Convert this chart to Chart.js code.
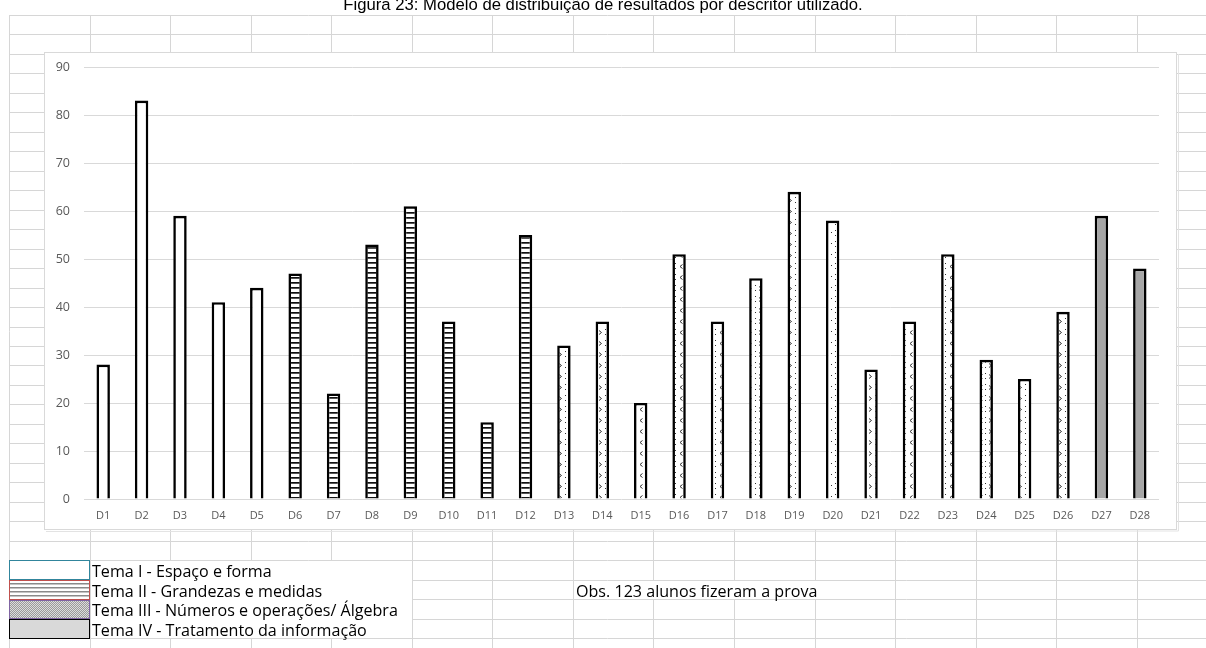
<!DOCTYPE html>
<html>
<head>
<meta charset="utf-8">
<script src="https://cdn.jsdelivr.net/npm/chart.js@4.4.1/dist/chart.umd.min.js"></script>
<style>
  body { margin: 0; width: 1206px; height: 648px; overflow: hidden; background: #fff; position: relative; }
  #planilha { position: absolute; left: 0; top: 0; }
  #titulo { position: absolute; left: 0; top: -4px; width: 1206px; text-align: center;
            font: 16.7px "Liberation Sans", Arial, sans-serif; line-height: 17px; color: #000; white-space: nowrap; }
  #grafico { position: absolute; left: 44px; top: 52px; width: 1133px; height: 478px; }
  .rotulo { position: absolute; left: 92px; height: 19px; line-height: 19px;
            font: 16.1px "Open Sans", sans-serif; color: #000; white-space: nowrap; }
  #obs { left: 576px; }
</style>
</head>
<body>
<canvas id="planilha" width="1206" height="648"></canvas>
<div id="titulo">Figura 23: Modelo de distribuição de resultados por descritor utilizado.</div>
<div id="grafico"><canvas id="barras" width="1133" height="478"></canvas></div>
<div class="rotulo" style="top:560px">Tema I - Espaço e forma</div>
<div class="rotulo" style="top:580px">Tema II - Grandezas e medidas</div>
<div class="rotulo" style="top:599px">Tema III - Números e operações/ Álgebra</div>
<div class="rotulo" style="top:619px">Tema IV - Tratamento da informação</div>
<div class="rotulo" id="obs" style="top:580px">Obs. 123 alunos fizeram a prova</div>
<script>
// dados
const descritores = ['D1','D2','D3','D4','D5','D6','D7','D8','D9','D10','D11','D12','D13','D14',
  'D15','D16','D17','D18','D19','D20','D21','D22','D23','D24','D25','D26','D27','D28'];
const acertos = [28, 83, 59, 41, 44, 47, 22, 53, 61, 37, 16, 55, 32, 37,
  20, 51, 37, 46, 64, 58, 27, 37, 51, 29, 25, 39, 59, 48];
const temas = [1,1,1,1,1, 2,2,2,2,2,2,2, 3,3,3,3,3,3,3,3,3,3,3,3,3,3, 4,4];
const escalaY = [0, 10, 20, 30, 40, 50, 60, 70, 80, 90];

// marca desenhada dentro das barras do tema III (so estilo)
const marcaTema3 = ['>','>','<','<','<','>','>','.','>','<','<','x','>','>'];

// fundo tipo planilha
const fundo = document.getElementById('planilha').getContext('2d');
fundo.strokeStyle = '#d6d6d6';
fundo.lineWidth = 1;
for (let k = 0; k <= 15; k++) {
  const x = Math.round(9 + 80.55 * k) + 0.5;
  fundo.beginPath(); fundo.moveTo(x, 15); fundo.lineTo(x, 648); fundo.stroke();
}
for (let k = 0; k <= 33; k++) {
  const y = Math.round(15 + 19.47 * k) + 0.5;
  fundo.beginPath(); fundo.moveTo(9, y); fundo.lineTo(1206, y); fundo.stroke();
}
// texto que transborda esconde as linhas
fundo.fillStyle = '#fff';
fundo.fillRect(91, 561, 321, 77);
fundo.fillRect(574, 581, 321, 18);

// caixa do grafico
fundo.fillStyle = '#fff';
fundo.fillRect(44, 52, 1133, 478);
fundo.strokeStyle = '#d9d9d9';
fundo.strokeRect(44.5, 52.5, 1132, 477);
fundo.strokeStyle = '#e3e3e3';
fundo.beginPath(); fundo.moveTo(1178.5, 54); fundo.lineTo(1178.5, 531); fundo.lineTo(46, 531.5); fundo.stroke();

// quadros da legenda
fundo.lineWidth = 1;
fundo.strokeStyle = '#31859c';
fundo.strokeRect(9.5, 560.5, 80, 19);
fundo.fillStyle = '#fff';
fundo.fillRect(10, 581, 79, 18);
fundo.fillStyle = '#8a8a8a';
for (let y = 583; y < 598; y += 4) fundo.fillRect(10, y, 79, 1.5);
fundo.strokeStyle = '#c0504d';
fundo.strokeRect(9.5, 580.5, 80, 19);
for (let y = 601; y < 619; y++) {
  for (let x = 10; x < 89; x++) {
    fundo.fillStyle = (x + y) % 2 ? '#9a9a9a' : '#dcdcdc';
    fundo.fillRect(x, y, 1, 1);
  }
}
fundo.strokeStyle = '#8064a2';
fundo.strokeRect(9.5, 600.5, 80, 18);
fundo.fillStyle = '#d9d9d9';
fundo.fillRect(10, 620, 79, 18);
fundo.strokeStyle = '#000';
fundo.strokeRect(9.5, 619.5, 80, 19);

// padroes de preenchimento
function tile(w, h, desenha) {
  const c = document.createElement('canvas');
  c.width = w; c.height = h;
  const g = c.getContext('2d');
  g.fillStyle = '#fff'; g.fillRect(0, 0, w, h);
  desenha(g);
  return fundo.createPattern(c, 'repeat');
}
const listrado = tile(4, 5, g => {
  g.fillStyle = '#111'; g.fillRect(0, 0, 4, 1);
  g.fillStyle = '#555'; g.fillRect(0, 1, 4, 1);
});
function pontilhado(tipo) {
  return tile(10, 11, g => {
    g.fillStyle = '#333';
    g.fillRect(1, 2, 1, 1); g.fillRect(1, 7, 1, 1);
    g.strokeStyle = '#333'; g.lineWidth = 1;
    g.beginPath();
    if (tipo === '>' || tipo === 'x') { g.moveTo(5, 3.5); g.lineTo(7.5, 5.5); g.lineTo(5, 7.5); }
    if (tipo === '<' || tipo === 'x') { g.moveTo(8.5, 3.5); g.lineTo(6, 5.5); g.lineTo(8.5, 7.5); }
    g.stroke();
    if (tipo === '.') { g.fillRect(7, 4, 1, 1); }
  });
}
const padroes3 = {};
['>', '<', '.', 'x'].forEach(t => padroes3[t] = pontilhado(t));

let n3 = 0;
const preenchimento = temas.map(t => {
  if (t === 1) return '#ffffff';
  if (t === 2) return listrado;
  if (t === 4) return '#a6a6a6';
  return padroes3[marcaTema3[n3++]];
});

new Chart(document.getElementById('barras'), {
  type: 'bar',
  data: {
    labels: descritores,
    datasets: [{
      data: acertos,
      backgroundColor: preenchimento,
      borderColor: '#000',
      borderWidth: 2.6,
      barPercentage: 0.35,
      categoryPercentage: 1
    }]
  },
  options: {
    responsive: false,
    maintainAspectRatio: false,
    animation: false,
    devicePixelRatio: 1,
    layout: { padding: { left: 0, top: 15, right: 18, bottom: 0 } },
    plugins: { legend: { display: false }, tooltip: { enabled: false } },
    scales: {
      x: {
        grid: { display: false, drawTicks: false },
        border: { display: false },
        ticks: { color: '#595959', font: { family: 'Open Sans', size: 11 }, padding: 10,
                 maxRotation: 0, autoSkip: false },
        afterFit: s => { s.height = 31; }
      },
      y: {
        min: 0,
        max: 90,
        grid: { color: '#d9d9d9', drawTicks: false },
        border: { display: false },
        ticks: { color: '#595959', font: { family: 'Open Sans', size: 12.5 }, padding: 14 },
        afterBuildTicks: s => { s.ticks = escalaY.map(v => ({ value: v })); },
        afterFit: s => { s.width = 40; s.paddingTop = 8; s.paddingBottom = 8; }
      }
    }
  }
});
</script>
</body>
</html>
